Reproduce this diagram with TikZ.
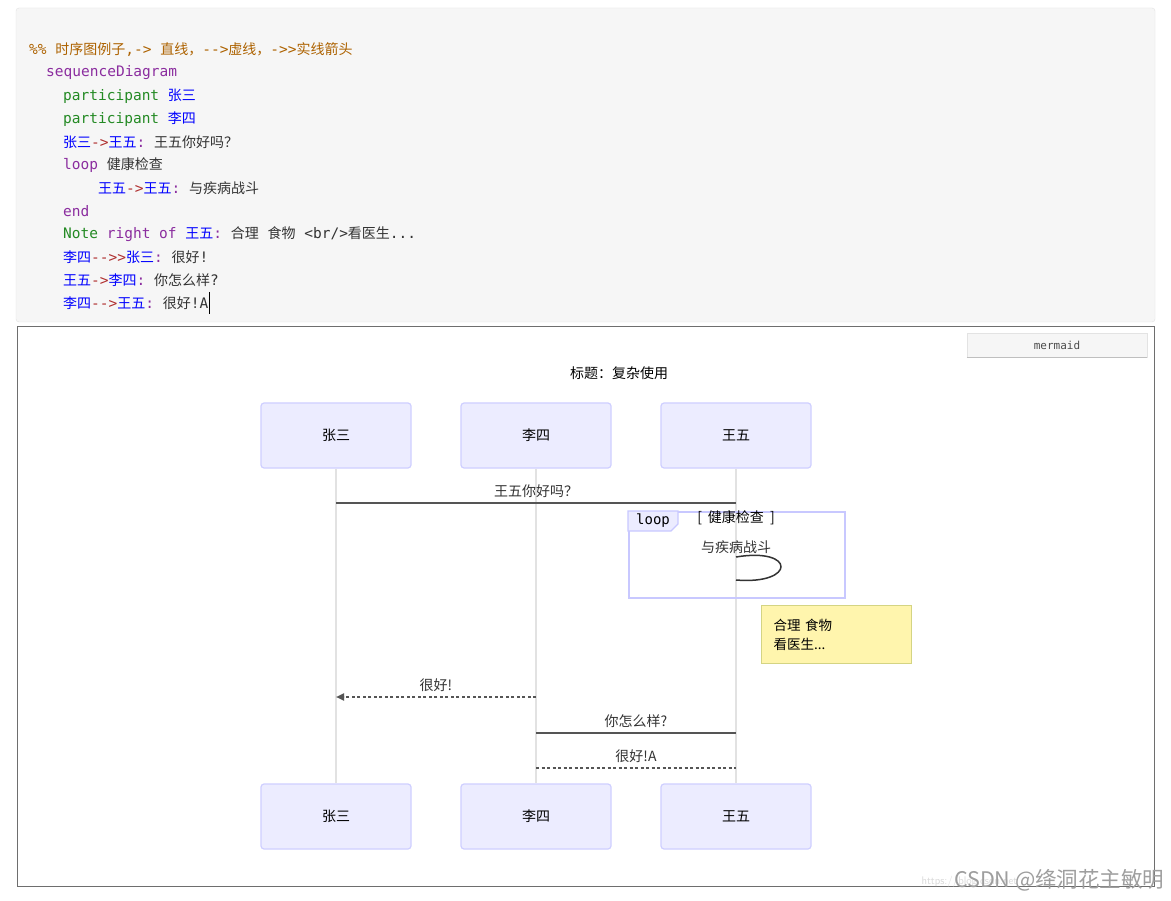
\documentclass[tikz,border=0pt]{standalone}
\usepackage{fontspec}
\usepackage{xcolor}
\usepackage{tikz}
\usetikzlibrary{arrows.meta,positioning,calc}
\setmonofont{DejaVu Sans Mono}
\newfontfamily\cjk{Noto Sans CJK SC}
\definecolor{codebg}{HTML}{F6F6F6}
\definecolor{codeedge}{HTML}{E3E3E3}
\definecolor{codetext}{HTML}{333333}
\definecolor{cmtbrown}{HTML}{AD6200}
\definecolor{kwpurple}{HTML}{8B2D9F}
\definecolor{declgreen}{HTML}{248A24}
\definecolor{actorblue}{HTML}{0000FF}
\definecolor{oprred}{HTML}{B03030}
\definecolor{actorfill}{HTML}{ECECFF}
\definecolor{actorline}{HTML}{CFCFFF}
\definecolor{lifegray}{HTML}{E2E2E2}
\definecolor{msggray}{HTML}{555555}
\definecolor{loopline}{HTML}{C8C8FF}
\definecolor{notefill}{HTML}{FFF5AD}
\definecolor{notedge}{HTML}{D4D483}
\definecolor{framegray}{HTML}{6E6E6E}
\newcommand{\zh}[1]{{\cjk\fontsize{14}{16}\selectfont #1}}
\newcommand{\dg}{\cjk\fontsize{14}{17}\selectfont}
\newcommand{\kw}[1]{\textcolor{kwpurple}{#1}}
\newcommand{\dc}[1]{\textcolor{declgreen}{#1}}
\newcommand{\who}[1]{\textcolor{actorblue}{\zh{#1}}}
\newcommand{\op}[1]{\textcolor{oprred}{#1}}

\begin{document}
\begin{tikzpicture}[x=1pt,y=-1pt,
  codeln/.style={anchor=west,inner sep=0pt,font=\fontsize{14.5}{17}\ttfamily,text=codetext},
  actor/.style={draw=actorline,fill=actorfill,rounded corners=3pt,line width=1.2pt,minimum width=150pt,minimum height=65pt,inner sep=0pt,font=\dg,text=black},
  lifeline/.style={draw=lifegray,line width=2pt},
  msg/.style={draw=msggray,line width=2pt},
  reply/.style={msg,dash pattern=on 3pt off 2.5pt},
  lab/.style={font=\dg,text=codetext,inner sep=0pt},
  >={Triangle[length=8pt,width=7pt]}]
  \useasboundingbox (0,0) rectangle (1171,901);
  \fill[white] (0,0) rectangle (1171,901);
  \draw[draw=codeedge,fill=codebg,rounded corners=3pt] (16,8) rectangle (1155,322);
  \node[codeln,text=cmtbrown] (c1) at (29,50) {\%\% \zh{时序图例子},-> \zh{直线，}-->\zh{虚线，}->>\zh{实线箭头}};
  \node[codeln] (c2) at (46,73) {\kw{sequenceDiagram}};
  \node[codeln] (c3) at (63,96) {\dc{participant} \who{张三}};
  \node[codeln] (c4) at (63,119) {\dc{participant} \who{李四}};
  \node[codeln] (c5) at (63,142) {\who{张三}\op{->}\who{王五}\kw{:} \zh{王五你好吗？}};
  \node[codeln] (c6) at (63,165) {\kw{loop} \zh{健康检查}};
  \node[codeln] (c7) at (98,188) {\who{王五}\op{->}\who{王五}\kw{:} \zh{与疾病战斗}};
  \node[codeln] (c8) at (63,211) {\kw{end}};
  \node[codeln] (c9) at (63,234) {\dc{Note} \kw{right of} \who{王五}\kw{:} \zh{合理} \zh{食物} <br/>\zh{看医生}...};
  \node[codeln] (c10) at (63,257) {\who{李四}\op{-->>}\who{张三}\kw{:} \zh{很好}!};
  \node[codeln] (c11) at (63,280) {\who{王五}\op{->}\who{李四}\kw{:} \zh{你怎么样}?};
  \node[codeln] (c12) at (63,303) {\who{李四}\op{-->}\who{王五}\kw{:} \zh{很好}!A};
  \draw[black,line width=0.8pt] (c12.east) ++(1,-11) -- ++(0,22);
  \node[draw=framegray,line width=1pt,minimum width=1137pt,minimum height=560pt,anchor=north west] (frame) at (17,326) {};
  \node[fill=codebg,draw=codeedge,minimum width=180pt,minimum height=24pt,inner sep=0pt,font=\fontsize{11}{13}\ttfamily,text=black!70] (tag) at (1057,345) {mermaid};
  \draw[black!25,line width=1pt] (tag.south west) -- (tag.south east);
  \node[lab,text=black] (title) at (619,373) {标题：复杂使用};
  \node[actor] (zsTop) at (336,435.5) {张三};
  \node[actor] (lsTop) at (536,435.5) {李四};
  \node[actor] (wwTop) at (736,435.5) {王五};
  \node[actor] (zsBot) at (336,816.5) {张三};
  \node[actor] (lsBot) at (536,816.5) {李四};
  \node[actor] (wwBot) at (736,816.5) {王五};
  \draw[lifeline] (zsTop.south) -- (zsBot.north);
  \draw[lifeline] (lsTop.south) -- (lsBot.north);
  \draw[lifeline] (wwTop.south) -- (wwBot.north);
  \coordinate (y1) at (0,503);
  \coordinate (y2) at (0,557);
  \coordinate (y3) at (0,697);
  \coordinate (y4) at (0,733);
  \coordinate (y5) at (0,768);
  \draw[msg] (zsTop |- y1) -- node[lab,above=4pt]{王五你好吗？} (wwTop |- y1);
  \node[draw=loopline,line width=1.5pt,minimum width=216pt,minimum height=86pt,inner sep=0pt,anchor=north west] (loopbox) at (628,511) {};
  \draw[draw=loopline,fill=actorfill,line width=1.2pt] (loopbox.north west) -- ++(50,0) -- ++(0,13) -- ++(-7,7) -- ++(-43,0) -- cycle;
  \node[font=\fontsize{14}{16}\ttfamily,text=black,inner sep=0pt] (looptag) at (653,521) {loop};
  \node[lab,text=black] (looplab) at (736,518) {[\hspace{6pt}健康检查\hspace{6pt}]};
  \coordinate (s1) at (wwTop |- y2);
  \node[lab] (selflab) at ($(s1)+(0,-10)$) {与疾病战斗};
  \draw[draw=codetext,line width=1.5pt] (s1) .. controls ($(s1)+(60,-10)$) and ($(s1)+(60,28)$) .. ($(s1)+(0,23)$);
  \node[draw=notedge,fill=notefill,line width=1.2pt,minimum height=58pt,text width=126pt,inner xsep=12pt,align=left,anchor=north west,font=\cjk\fontsize{13.5}{19}\selectfont,text=black] (note) at (761,605) {合理 食物\\看医生...};
  \draw[reply,->] (lsTop |- y3) -- node[lab,above=4pt]{很好!} (zsTop |- y3);
  \draw[msg] (lsTop |- y4) -- node[lab,above=4pt]{你怎么样?} (wwTop |- y4);
  \draw[reply] (lsTop |- y5) -- node[lab,above=4pt]{很好!A} (wwTop |- y5);
  \node[anchor=west,font=\sffamily\fontsize{11}{13}\selectfont,text=black!15] (url) at (918,882) {https://blog.csdn.net};
  \node[anchor=east,font=\cjk\fontsize{21.5}{24}\selectfont,text=black!38] (mark) at (1168,880) {CSDN @绛洞花主敏明};
\end{tikzpicture}
\end{document}
